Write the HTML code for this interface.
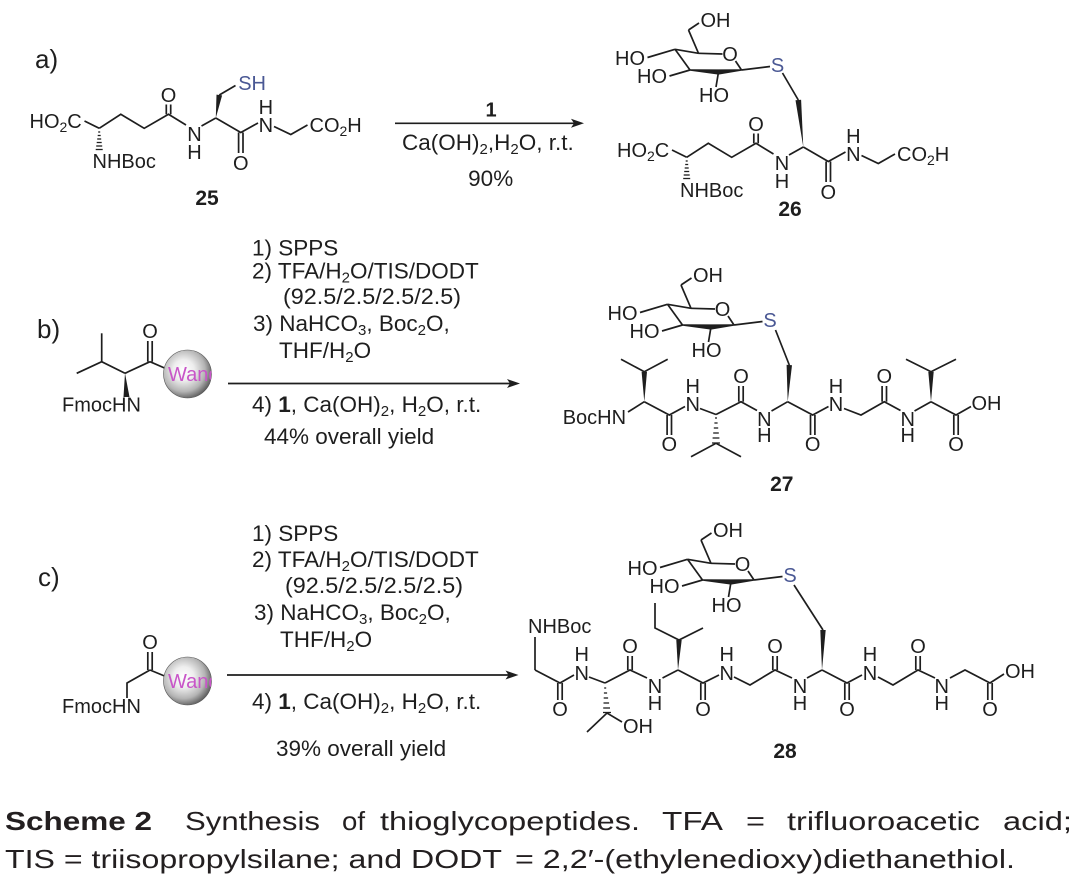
<!DOCTYPE html>
<html><head><meta charset="utf-8">
<style>
html,body{margin:0;padding:0;background:#fff;}
svg{display:block;}
text{font-family:"Liberation Sans",Arial,sans-serif;fill:#1e1e1e;font-size:20px;}
.bd{stroke:#1e1e1e;stroke-width:1.7;fill:none;stroke-linecap:butt;stroke-linejoin:miter;}
.hs{stroke:#1e1e1e;stroke-width:1.3;}
.r{font-size:22.5px;}
.s{fill:#4a5894;}
.cap{font-size:26px;fill:#231f20;}
.num{font-weight:bold;font-size:21px;}
.lab{font-size:26px;}
</style></head><body>
<svg width="1080" height="887" viewBox="0 0 1080 887" xmlns="http://www.w3.org/2000/svg">
<defs>
<radialGradient id="sph" cx="0.42" cy="0.42" r="0.62">
<stop offset="0" stop-color="#ffffff"/>
<stop offset="0.35" stop-color="#eeeeee"/>
<stop offset="0.72" stop-color="#b4b4b4"/>
<stop offset="1" stop-color="#585858"/>
</radialGradient>
<clipPath id="cb"><circle cx="187.5" cy="374" r="24"/></clipPath>
<clipPath id="cc"><circle cx="187.5" cy="681" r="24"/></clipPath>
</defs>

<!-- ============ a) ============ -->
<text x="35" y="68" class="lab">a)</text>

<!-- compound 25 (same backbone as 26, translated) -->
<g transform="translate(-587.5,-29)">
<g class="bd">
<line x1="672" y1="150" x2="686.7" y2="157.3"/>
<polyline points="686.7,157.3 708.3,143.3 731.7,157.3 756,143.3 773.5,154"/>
<line x1="753.8" y1="143.3" x2="753.8" y2="133.5"/>
<line x1="758.2" y1="143.3" x2="758.2" y2="133.5"/>
<line x1="789" y1="155" x2="803.3" y2="147"/>
<polyline points="803.3,147 828.3,161.5 845.5,152"/>
<line x1="826.1" y1="161.5" x2="826.1" y2="182"/>
<line x1="830.5" y1="161.5" x2="830.5" y2="182"/>
<polyline points="861.5,155.5 878.3,163.5 895,154"/>
<line x1="806.8" y1="124" x2="823" y2="114.5"/>
</g>
<polygon points="803.3,147 809.6,124.4 804,123.6" fill="#1e1e1e"/>
<g class="hs">
<line x1="685.7" y1="161" x2="687.7" y2="161"/>
<line x1="685.2" y1="164.5" x2="688.2" y2="164.5"/>
<line x1="684.7" y1="168" x2="688.7" y2="168"/>
<line x1="684.2" y1="171.5" x2="689.2" y2="171.5"/>
<line x1="683.7" y1="175" x2="689.7" y2="175"/>
<line x1="683.2" y1="178.5" x2="690.2" y2="178.5"/>
</g>
<text x="617" y="157">HO<tspan font-size="14" dy="4">2</tspan><tspan dy="-4">C</tspan></text>
<text x="680" y="197">NHBoc</text>
<text x="756" y="131" text-anchor="middle">O</text>
<text x="782" y="170" text-anchor="middle">N</text>
<text x="782" y="188" text-anchor="middle">H</text>
<text x="828.3" y="199" text-anchor="middle">O</text>
<text x="853.3" y="161" text-anchor="middle">N</text>
<text x="853.3" y="143" text-anchor="middle">H</text>
<text x="897" y="161">CO<tspan font-size="14" dy="4">2</tspan><tspan dy="-4">H</tspan></text>
<text x="825.7" y="119" class="s">SH</text>
</g>
<text x="207" y="205" class="num" text-anchor="middle">25</text>

<!-- arrow a -->
<line x1="395" y1="123.3" x2="574" y2="123.3" class="bd" stroke-width="1.5"/>
<polygon points="584,123.3 571,118.8 574,123.3 571,127.8" fill="#1e1e1e"/>
<text x="491" y="116.7" font-size="22" font-weight="bold" text-anchor="middle">1</text>
<text x="402" y="150" class="r">Ca(OH)<tspan font-size="15" dy="4">2</tspan><tspan dy="-4">,H</tspan><tspan font-size="15" dy="4">2</tspan><tspan dy="-4">O, r.t.</tspan></text>
<text x="490.7" y="186" class="r" text-anchor="middle">90%</text>

<!-- compound 26 -->
<g class="bd">
<line x1="672" y1="150" x2="686.7" y2="157.3"/>
<polyline points="686.7,157.3 708.3,143.3 731.7,157.3 756,143.3 773.5,154"/>
<line x1="753.8" y1="143.3" x2="753.8" y2="133.5"/>
<line x1="758.2" y1="143.3" x2="758.2" y2="133.5"/>
<line x1="789" y1="155" x2="803.3" y2="147"/>
<polyline points="803.3,147 828.3,161.5 845.5,152"/>
<line x1="826.1" y1="161.5" x2="826.1" y2="182"/>
<line x1="830.5" y1="161.5" x2="830.5" y2="182"/>
<polyline points="861.5,155.5 878.3,163.5 895,154"/>
<line x1="798.3" y1="100" x2="782.5" y2="73"/>
</g>
<polygon points="803.3,147 801.1,99.7 795.5,100.3" fill="#1e1e1e"/>
<g class="hs">
<line x1="685.7" y1="161" x2="687.7" y2="161"/>
<line x1="685.2" y1="164.5" x2="688.2" y2="164.5"/>
<line x1="684.7" y1="168" x2="688.7" y2="168"/>
<line x1="684.2" y1="171.5" x2="689.2" y2="171.5"/>
<line x1="683.7" y1="175" x2="689.7" y2="175"/>
<line x1="683.2" y1="178.5" x2="690.2" y2="178.5"/>
</g>
<text x="617" y="157">HO<tspan font-size="14" dy="4">2</tspan><tspan dy="-4">C</tspan></text>
<text x="680" y="197">NHBoc</text>
<text x="756" y="131" text-anchor="middle">O</text>
<text x="782" y="170" text-anchor="middle">N</text>
<text x="782" y="188" text-anchor="middle">H</text>
<text x="828.3" y="199" text-anchor="middle">O</text>
<text x="853.3" y="161" text-anchor="middle">N</text>
<text x="853.3" y="143" text-anchor="middle">H</text>
<text x="897" y="161">CO<tspan font-size="14" dy="4">2</tspan><tspan dy="-4">H</tspan></text>
<text x="790" y="216" class="num" text-anchor="middle">26</text>

<!-- sugar on 26 -->
<g transform="translate(777.5,65)">
<g class="bd">
<line x1="-102.5" y1="-15.7" x2="-79" y2="-11.7"/>
<line x1="-79" y1="-11.7" x2="-55" y2="-11"/>
<line x1="-42" y1="-4" x2="-36" y2="5"/>
<line x1="-36" y1="5" x2="-7.5" y2="1.5"/>
<line x1="-87.5" y1="5" x2="-102.5" y2="-15.7"/>
<line x1="-102.5" y1="-15.7" x2="-130" y2="-7.5"/>
<line x1="-87.5" y1="5" x2="-108" y2="11"/>
<line x1="-59" y1="7" x2="-61.5" y2="22"/>
<line x1="-79" y1="-11.7" x2="-89" y2="-35"/>
<line x1="-89" y1="-35" x2="-78.5" y2="-42"/>
</g>
<polygon points="-87.5,4.2 -59,4.4 -36,4.2 -36,5.8 -59,9.6 -87.5,5.8" fill="#1e1e1e"/>
<text x="0" y="7" text-anchor="middle" class="s">S</text>
<text x="-47.5" y="-4" text-anchor="middle">O</text>
<text x="-77" y="-38">OH</text>
<text x="-132.5" y="0" text-anchor="end">HO</text>
<text x="-110.5" y="18" text-anchor="end">HO</text>
<text x="-63.5" y="37" text-anchor="middle">HO</text>
</g>

<!-- ============ b) ============ -->
<text x="37" y="338" class="lab">b)</text>
<g class="bd">
<line x1="147.8" y1="361.7" x2="147.8" y2="341"/>
<line x1="152.2" y1="361.7" x2="152.2" y2="341"/>
<line x1="150" y1="361.7" x2="164.5" y2="368"/>
<polyline points="125,373.3 150,361.7"/>
<polyline points="76.7,373.3 101.7,361.7 125,373.3"/>
<line x1="101.7" y1="361.7" x2="101.7" y2="333.3"/>
</g>
<polygon points="125,373.3 129.5,397 123.5,397" fill="#1e1e1e"/>
<text x="150" y="338" font-size="18" text-anchor="middle">O</text>
<text x="62" y="411.5" font-size="18">FmocHN</text>
<circle cx="187.5" cy="374" r="24" fill="url(#sph)" stroke="#555" stroke-width="0.6"/>
<text x="168" y="381" font-size="15" clip-path="url(#cb)" style="fill:#c855c8">Wang</text>

<text x="252" y="255.5" class="r">1) SPPS</text>
<text x="252" y="278.5" class="r">2) TFA/H<tspan font-size="15" dy="4">2</tspan><tspan dy="-4">O/TIS/DODT</tspan></text>
<text x="283" y="304" class="r" textLength="178" lengthAdjust="spacingAndGlyphs">(92.5/2.5/2.5/2.5)</text>
<text x="253" y="331" class="r">3) NaHCO<tspan font-size="15" dy="4">3</tspan><tspan dy="-4">, Boc</tspan><tspan font-size="15" dy="4">2</tspan><tspan dy="-4">O,</tspan></text>
<text x="279" y="358" class="r">THF/H<tspan font-size="15" dy="4">2</tspan><tspan dy="-4">O</tspan></text>
<line x1="228" y1="383.5" x2="510" y2="383.5" class="bd" stroke-width="1.5"/>
<polygon points="520,383.5 507,379 510,383.5 507,388" fill="#1e1e1e"/>
<text x="252" y="412" class="r">4) <tspan font-weight="bold">1</tspan>, Ca(OH)<tspan font-size="15" dy="4">2</tspan><tspan dy="-4">, H</tspan><tspan font-size="15" dy="4">2</tspan><tspan dy="-4">O, r.t.</tspan></text>
<text x="264" y="444" class="r">44% overall yield</text>

<!-- compound 27 -->
<g class="bd">
<line x1="628" y1="412" x2="644.3" y2="401.7"/>
<polyline points="621,359.3 644.3,371.7 667.7,359.3"/>
<polyline points="644.3,401.7 669.3,415 685,406.5"/>
<line x1="667.1" y1="415" x2="667.1" y2="435"/>
<line x1="671.5" y1="415" x2="671.5" y2="435"/>
<line x1="700" y1="408.5" x2="716" y2="414.5"/>
<polyline points="691,456.7 716,443.3 741,456.7"/>
<polyline points="716,414.5 741,401.7 757,410.5"/>
<line x1="738.8" y1="401.7" x2="738.8" y2="386"/>
<line x1="743.2" y1="401.7" x2="743.2" y2="386"/>
<line x1="771.5" y1="411" x2="787.7" y2="401.7"/>
<line x1="789.3" y1="365" x2="775.5" y2="330"/>
<polyline points="787.7,401.7 812.7,415 828.5,406.5"/>
<line x1="810.5" y1="415" x2="810.5" y2="435"/>
<line x1="814.9" y1="415" x2="814.9" y2="435"/>
<polyline points="844,408.5 861,415 884.3,401.7 900.5,410.5"/>
<line x1="882.1" y1="401.7" x2="882.1" y2="386"/>
<line x1="886.5" y1="401.7" x2="886.5" y2="386"/>
<line x1="914.5" y1="411" x2="931" y2="401.7"/>
<polyline points="906,359.3 931,371.7 956,359.3"/>
<polyline points="931,401.7 956,415 971,406.5"/>
<line x1="953.8" y1="415" x2="953.8" y2="435"/>
<line x1="958.2" y1="415" x2="958.2" y2="435"/>
</g>
<polygon points="644.3,401.7 647,371.7 641.6,371.7" fill="#1e1e1e"/>
<polygon points="787.7,401.7 792,365.2 786.6,364.8" fill="#1e1e1e"/>
<polygon points="931,401.7 933.7,371.7 928.3,371.7" fill="#1e1e1e"/>
<g class="hs">
<line x1="715" y1="418" x2="717" y2="418"/>
<line x1="714.4" y1="423" x2="717.6" y2="423"/>
<line x1="713.8" y1="428" x2="718.2" y2="428"/>
<line x1="713.2" y1="433" x2="718.8" y2="433"/>
<line x1="712.6" y1="438" x2="719.4" y2="438"/>
<line x1="712" y1="443" x2="720" y2="443"/>
</g>
<text x="562.7" y="424">BocHN</text>
<text x="669.3" y="451" text-anchor="middle">O</text>
<text x="692.7" y="411" text-anchor="middle">N</text>
<text x="692.7" y="393" text-anchor="middle">H</text>
<text x="741" y="383" text-anchor="middle">O</text>
<text x="764.3" y="426" text-anchor="middle">N</text>
<text x="764.3" y="442" text-anchor="middle">H</text>
<text x="812.7" y="451" text-anchor="middle">O</text>
<text x="836" y="411" text-anchor="middle">N</text>
<text x="836" y="393" text-anchor="middle">H</text>
<text x="884.3" y="383" text-anchor="middle">O</text>
<text x="907.7" y="426" text-anchor="middle">N</text>
<text x="907.7" y="442" text-anchor="middle">H</text>
<text x="956" y="451" text-anchor="middle">O</text>
<text x="971.5" y="410">OH</text>
<text x="781.8" y="491" class="num" text-anchor="middle">27</text>

<!-- sugar on 27 -->
<g transform="translate(770,320)">
<g class="bd">
<line x1="-102.5" y1="-15.7" x2="-79" y2="-11.7"/>
<line x1="-79" y1="-11.7" x2="-55" y2="-11"/>
<line x1="-42" y1="-4" x2="-36" y2="5"/>
<line x1="-36" y1="5" x2="-7.5" y2="1.5"/>
<line x1="-87.5" y1="5" x2="-102.5" y2="-15.7"/>
<line x1="-102.5" y1="-15.7" x2="-130" y2="-7.5"/>
<line x1="-87.5" y1="5" x2="-108" y2="11"/>
<line x1="-59" y1="7" x2="-61.5" y2="22"/>
<line x1="-79" y1="-11.7" x2="-89" y2="-35"/>
<line x1="-89" y1="-35" x2="-78.5" y2="-42"/>
</g>
<polygon points="-87.5,4.2 -59,4.4 -36,4.2 -36,5.8 -59,9.6 -87.5,5.8" fill="#1e1e1e"/>
<text x="0" y="7" text-anchor="middle" class="s">S</text>
<text x="-47.5" y="-4" text-anchor="middle">O</text>
<text x="-77" y="-38">OH</text>
<text x="-132.5" y="0" text-anchor="end">HO</text>
<text x="-110.5" y="18" text-anchor="end">HO</text>
<text x="-63.5" y="37" text-anchor="middle">HO</text>
</g>

<!-- ============ c) ============ -->
<text x="38" y="586" class="lab">c)</text>
<g class="bd">
<line x1="147.8" y1="670" x2="147.8" y2="652"/>
<line x1="152.2" y1="670" x2="152.2" y2="652"/>
<line x1="150" y1="670" x2="164.5" y2="676"/>
<polyline points="150,670 127,683 127,698"/>
</g>
<text x="150" y="649" font-size="18" text-anchor="middle">O</text>
<text x="62" y="713" font-size="18">FmocHN</text>
<circle cx="187.5" cy="681" r="24" fill="url(#sph)" stroke="#555" stroke-width="0.6"/>
<text x="168" y="688" font-size="15" clip-path="url(#cc)" style="fill:#c855c8">Wang</text>

<text x="252" y="541" class="r">1) SPPS</text>
<text x="252" y="567" class="r">2) TFA/H<tspan font-size="15" dy="4">2</tspan><tspan dy="-4">O/TIS/DODT</tspan></text>
<text x="285" y="593" class="r" textLength="178" lengthAdjust="spacingAndGlyphs">(92.5/2.5/2.5/2.5)</text>
<text x="254" y="620" class="r">3) NaHCO<tspan font-size="15" dy="4">3</tspan><tspan dy="-4">, Boc</tspan><tspan font-size="15" dy="4">2</tspan><tspan dy="-4">O,</tspan></text>
<text x="280" y="647" class="r">THF/H<tspan font-size="15" dy="4">2</tspan><tspan dy="-4">O</tspan></text>
<line x1="227" y1="675" x2="508.5" y2="675" class="bd" stroke-width="1.5"/>
<polygon points="518.5,675 505.5,670.5 508.5,675 505.5,679.5" fill="#1e1e1e"/>
<text x="252" y="709" class="r">4) <tspan font-weight="bold">1</tspan>, Ca(OH)<tspan font-size="15" dy="4">2</tspan><tspan dy="-4">, H</tspan><tspan font-size="15" dy="4">2</tspan><tspan dy="-4">O, r.t.</tspan></text>
<text x="276" y="756" class="r">39% overall yield</text>

<!-- compound 28 -->
<g class="bd">
<line x1="535" y1="637" x2="535" y2="670"/>
<polyline points="535,670 560,683 574,675"/>
<line x1="557.8" y1="683" x2="557.8" y2="700"/>
<line x1="562.2" y1="683" x2="562.2" y2="700"/>
<line x1="589" y1="677" x2="605" y2="683"/>
<polyline points="587,732 607,713 622,722"/>
<polyline points="605,683 630,670 647,678"/>
<line x1="627.8" y1="670" x2="627.8" y2="656"/>
<line x1="632.2" y1="670" x2="632.2" y2="656"/>
<line x1="662.5" y1="678" x2="678" y2="670"/>
<polyline points="655,603 655,628 679,640 703,628"/>
<polyline points="678,670 703,683 719,675"/>
<line x1="700.8" y1="683" x2="700.8" y2="700"/>
<line x1="705.2" y1="683" x2="705.2" y2="700"/>
<polyline points="734,677 750,685 775,670 792,678"/>
<line x1="772.8" y1="670" x2="772.8" y2="656"/>
<line x1="777.2" y1="670" x2="777.2" y2="656"/>
<line x1="807" y1="678" x2="822" y2="670"/>
<line x1="823" y1="630" x2="794" y2="585"/>
<polyline points="822,670 847,683 862,675"/>
<line x1="844.8" y1="683" x2="844.8" y2="700"/>
<line x1="849.2" y1="683" x2="849.2" y2="700"/>
<polyline points="878,677 893,685 918,670 935,678"/>
<line x1="915.8" y1="670" x2="915.8" y2="656"/>
<line x1="920.2" y1="670" x2="920.2" y2="656"/>
<polyline points="950,678 965,670 990,683 1004,674"/>
<line x1="987.8" y1="683" x2="987.8" y2="700"/>
<line x1="992.2" y1="683" x2="992.2" y2="700"/>
</g>
<polygon points="678,670 681.7,640 676.3,640" fill="#1e1e1e"/>
<polygon points="822,670 825.7,630 820.3,630" fill="#1e1e1e"/>
<g class="hs">
<line x1="604.2" y1="688" x2="606.2" y2="688"/>
<line x1="603.9" y1="693" x2="607.1" y2="693"/>
<line x1="603.7" y1="698" x2="608.1" y2="698"/>
<line x1="603.5" y1="703" x2="609.1" y2="703"/>
<line x1="603.2" y1="708" x2="610" y2="708"/>
<line x1="603" y1="712.5" x2="611" y2="712.5"/>
</g>
<text x="528" y="633">NHBoc</text>
<text x="560" y="716" text-anchor="middle">O</text>
<text x="581.7" y="680" text-anchor="middle">N</text>
<text x="581.7" y="661" text-anchor="middle">H</text>
<text x="623" y="733">OH</text>
<text x="630" y="653" text-anchor="middle">O</text>
<text x="655" y="693" text-anchor="middle">N</text>
<text x="655" y="710" text-anchor="middle">H</text>
<text x="703" y="716" text-anchor="middle">O</text>
<text x="726.7" y="680" text-anchor="middle">N</text>
<text x="726.7" y="661" text-anchor="middle">H</text>
<text x="775" y="653" text-anchor="middle">O</text>
<text x="800" y="693" text-anchor="middle">N</text>
<text x="800" y="710" text-anchor="middle">H</text>
<text x="847" y="716" text-anchor="middle">O</text>
<text x="870" y="680" text-anchor="middle">N</text>
<text x="870" y="661" text-anchor="middle">H</text>
<text x="918" y="653" text-anchor="middle">O</text>
<text x="941.7" y="693" text-anchor="middle">N</text>
<text x="941.7" y="710" text-anchor="middle">H</text>
<text x="990" y="716" text-anchor="middle">O</text>
<text x="1005" y="678">OH</text>
<text x="785" y="758" class="num" text-anchor="middle">28</text>

<!-- sugar on 28 -->
<g transform="translate(790,575)">
<g class="bd">
<line x1="-102.5" y1="-15.7" x2="-79" y2="-11.7"/>
<line x1="-79" y1="-11.7" x2="-55" y2="-11"/>
<line x1="-42" y1="-4" x2="-36" y2="5"/>
<line x1="-36" y1="5" x2="-7.5" y2="1.5"/>
<line x1="-87.5" y1="5" x2="-102.5" y2="-15.7"/>
<line x1="-102.5" y1="-15.7" x2="-130" y2="-7.5"/>
<line x1="-87.5" y1="5" x2="-108" y2="11"/>
<line x1="-59" y1="7" x2="-61.5" y2="22"/>
<line x1="-79" y1="-11.7" x2="-89" y2="-35"/>
<line x1="-89" y1="-35" x2="-78.5" y2="-42"/>
</g>
<polygon points="-87.5,4.2 -59,4.4 -36,4.2 -36,5.8 -59,9.6 -87.5,5.8" fill="#1e1e1e"/>
<text x="0" y="7" text-anchor="middle" class="s">S</text>
<text x="-47.5" y="-4" text-anchor="middle">O</text>
<text x="-77" y="-38">OH</text>
<text x="-132.5" y="0" text-anchor="end">HO</text>
<text x="-110.5" y="18" text-anchor="end">HO</text>
<text x="-63.5" y="37" text-anchor="middle">HO</text>
</g>

<!-- ============ caption ============ -->
<text x="5" y="830" class="cap" font-weight="bold" textLength="147" lengthAdjust="spacingAndGlyphs">Scheme 2</text>
<text x="185" y="830" class="cap" textLength="135" lengthAdjust="spacingAndGlyphs">Synthesis</text>
<text x="342" y="830" class="cap" textLength="23" lengthAdjust="spacingAndGlyphs">of</text>
<text x="380" y="830" class="cap" textLength="260" lengthAdjust="spacingAndGlyphs">thioglycopeptides.</text>
<text x="662" y="830" class="cap" textLength="61" lengthAdjust="spacingAndGlyphs">TFA</text>
<text x="746" y="830" class="cap" textLength="19" lengthAdjust="spacingAndGlyphs">=</text>
<text x="787" y="830" class="cap" textLength="193" lengthAdjust="spacingAndGlyphs">trifluoroacetic</text>
<text x="1003" y="830" class="cap" textLength="69" lengthAdjust="spacingAndGlyphs">acid;</text>
<text x="5" y="868" class="cap" textLength="497" lengthAdjust="spacingAndGlyphs">TIS = triisopropylsilane; and DODT</text>
<text x="515" y="868" class="cap" textLength="500" lengthAdjust="spacingAndGlyphs">= 2,2′-(ethylenedioxy)diethanethiol.</text>
</svg>
</body></html>
